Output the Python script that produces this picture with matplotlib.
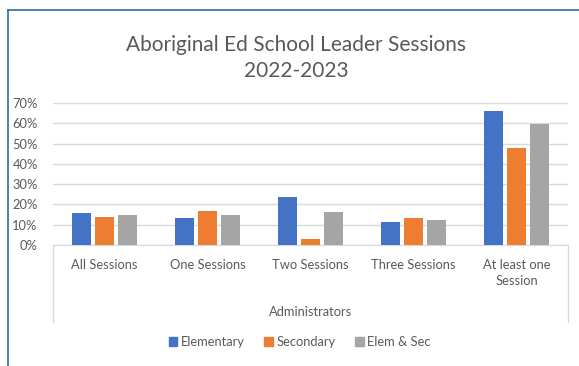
import numpy as np
import matplotlib.pyplot as plt
from matplotlib.lines import Line2D
from matplotlib.patches import Patch
from matplotlib.ticker import PercentFormatter

plt.rcParams["font.family"] = ["Lato", "DejaVu Sans"]

categories = ["All Sessions", "One Sessions", "Two Sessions", "Three Sessions", "At least one\nSession"]
elementary = [15.8, 13.4, 23.9, 11.4, 66.0]
secondary = [13.6, 17.0, 3.1, 13.5, 48.0]
elem_sec = [14.7, 14.7, 16.3, 12.4, 59.7]

series = [
    ("Elementary", elementary, "#4472C4"),
    ("Secondary", secondary, "#ED7D31"),
    ("Elem & Sec", elem_sec, "#A5A5A5"),
]

W, H = 579, 366
fig = plt.figure(figsize=(W / 100, H / 100), dpi=100)

# plot area in pixel terms
left, right, bottom, top = 53, 568, 245, 103
ax = fig.add_axes([left / W, 1 - bottom / H, (right - left) / W, (bottom - top) / H])

x = np.arange(len(categories))
step = 0.225
width = 0.18
for i, (name, vals, col) in enumerate(series):
    ax.bar(x + (i - 1) * step, vals, width=width, color=col, label=name, zorder=3)

ax.set_xlim(-0.5, len(categories) - 0.5)
ax.set_ylim(0, 70)
ax.set_yticks(np.arange(0, 71, 10))
ax.yaxis.set_major_formatter(PercentFormatter(decimals=0))
ax.grid(axis="y", color="#d9d9d9", linewidth=1, zorder=0)
for s in ["top", "right", "left"]:
    ax.spines[s].set_visible(False)
ax.spines["bottom"].set_color("#d9d9d9")
ax.tick_params(axis="both", length=0, colors="#595959", labelsize=9.3)
ax.tick_params(axis="y", pad=11)
ax.set_xticks(x)
ax.set_xticklabels(categories, fontsize=9.3, color="#595959", linespacing=1.4)
ax.tick_params(axis="x", pad=10)

# outer box of the category axis
for px in (left, right):
    fig.add_artist(Line2D([px / W, px / W], [1 - bottom / H, 1 - 322 / H], color="#d9d9d9", lw=1))

fig.text(0.537, 1 - 312 / H, "Administrators", ha="center", va="center", fontsize=9.3, color="#595959")
fig.text(0.511, 1 - 58 / H, "Aboriginal Ed School Leader Sessions\n2022-2023", ha="center", va="center",
         fontsize=15, color="#595959", linespacing=1.35)

handles = [Patch(color=c, label=n) for n, v, c in series]
fig.legend(handles=handles, loc="center", bbox_to_anchor=(0.518, 1 - 342 / H), ncol=3, frameon=False,
           fontsize=9.3, labelcolor="#595959", handlelength=0.65, handleheight=0.65,
           handletextpad=0.3, columnspacing=1.5)

# chart frame edges
frame = "#2E6DA4"
fig.add_artist(Line2D([8 / W, 1], [1 - 10 / H, 1 - 10 / H], color=frame, lw=1.2))
fig.add_artist(Line2D([8 / W, 8 / W], [0, 1 - 10 / H], color=frame, lw=1.2))

fig.savefig("out.png", dpi=100)
